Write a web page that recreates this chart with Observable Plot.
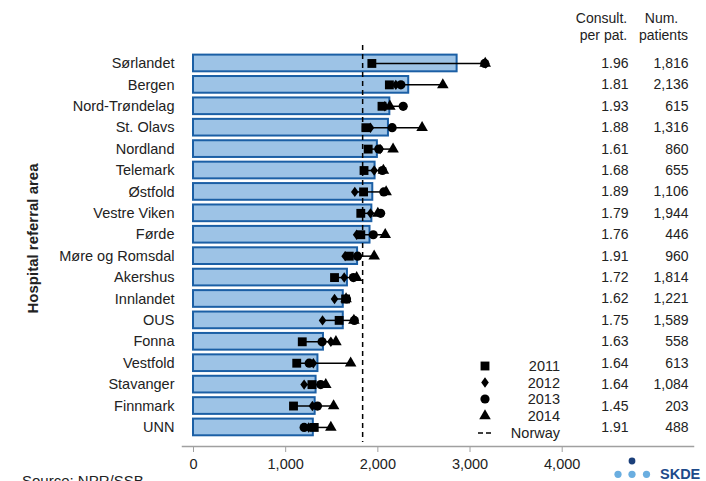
<!DOCTYPE html>
<html>
<head>
<meta charset="utf-8">
<script src="https://cdn.jsdelivr.net/npm/d3@7"></script>
<script src="https://cdn.jsdelivr.net/npm/@observablehq/plot@0.6"></script>
<style>
  body { margin: 0; background: #fff; }
  svg { font-family: Arial, "Liberation Sans", sans-serif; }
</style>
</head>
<body>
<div id="chart"></div>
<script>
const categories = ["Sørlandet","Bergen","Nord-Trøndelag","St. Olavs","Nordland","Telemark","Østfold","Vestre Viken","Førde","Møre og Romsdal","Akershus","Innlandet","OUS","Fonna","Vestfold","Stavanger","Finnmark","UNN"];
const average = [2860, 2335, 2130, 2115, 1995, 1970, 1945, 1935, 1915, 1780, 1670, 1625, 1625, 1410, 1350, 1330, 1320, 1300];
const v2011 = [1935, 2125, 2045, 1870, 1895, 1850, 1845, 1815, 1815, 1690, 1530, 1650, 1580, 1180, 1120, 1285, 1085, 1310];
const v2012 = [3170, 2195, 2075, 1920, 2025, 1960, 1750, 1920, 1770, 1645, 1635, 1530, 1400, 1490, 1300, 1200, 1290, 1250];
const v2013 = [3160, 2250, 2275, 2155, 2010, 2050, 2065, 2030, 1950, 1780, 1735, 1660, 1745, 1395, 1255, 1380, 1345, 1200];
const v2014 = [3165, 2705, 2130, 2480, 2165, 2060, 2090, 2000, 2080, 1960, 1770, 1655, 1740, 1545, 1705, 1435, 1520, 1490];
const consultPerPat = [1.96, 1.81, 1.93, 1.88, 1.61, 1.68, 1.89, 1.79, 1.76, 1.91, 1.72, 1.62, 1.75, 1.63, 1.64, 1.64, 1.45, 1.91];
const numPatients = [1816, 2136, 615, 1316, 860, 655, 1106, 1944, 446, 960, 1814, 1221, 1589, 558, 613, 1084, 203, 488];
const norway = 1835;
const xTicks = [0, 1000, 2000, 3000, 4000];
const legendLabels = ["2011", "2012", "2013", "2014", "Norway"];

const rows = categories.map((cat, i) => {
  const vals = [v2011[i], v2012[i], v2013[i], v2014[i]];
  return {cat, avg: average[i], y2011: v2011[i], y2012: v2012[i], y2013: v2013[i], y2014: v2014[i],
          min: d3.min(vals), max: d3.max(vals), consult: consultPerPat[i], patients: numPatients[i]};
});

const fmt = d3.format(",");
const textColor = "#222";
const symSizes = {square: 5, diamond: 4, circle: 4.6, triangle: 4.3};

// a diamond a little wider than d3's default
const wideDiamond = {
  draw(context, size) {
    const r = Math.sqrt(size / Math.PI);
    const h = r * 1.3, w = r * 0.95;
    context.moveTo(0, -h);
    context.lineTo(w, 0);
    context.lineTo(0, h);
    context.lineTo(-w, 0);
    context.closePath();
  }
};

function extras(index, scales, values, dims) {
  const g = d3.create("svg:g");
  const right = dims.width - dims.marginRight;
  const bottom = dims.height - dims.marginBottom;
  const syms = ["square", "diamond", "circle", "triangle"];
  const d3syms = {square: d3.symbolSquare, diamond: wideDiamond, circle: d3.symbolCircle, triangle: d3.symbolTriangle};
  const rowsY = [-80, -63.5, -47, -30, -13];
  legendLabels.forEach((lab, i) => {
    const cy = bottom + rowsY[i];
    const cx = right - 208;
    if (i < 4) {
      const r = symSizes[syms[i]];
      g.append("path")
        .attr("transform", `translate(${cx},${cy})`)
        .attr("d", d3.symbol(d3syms[syms[i]], r * r * Math.PI)())
        .attr("fill", "black");
    } else {
      g.append("line").attr("x1", cx - 7).attr("x2", cx + 7).attr("y1", cy).attr("y2", cy)
        .attr("stroke", "black").attr("stroke-width", 1.5).attr("stroke-dasharray", "5,3");
    }
    g.append("text").attr("x", right - 133).attr("y", cy).attr("dy", "0.35em")
      .attr("text-anchor", "end").attr("font-size", 14.5).attr("fill", textColor).text(lab);
  });
  g.append("text").attr("x", 22).attr("y", 486).attr("text-anchor", "start")
    .attr("font-size", 15).attr("fill", textColor).text("Source: NPR/SSB");
  g.append("circle").attr("cx", 632).attr("cy", 461).attr("r", 3.4).attr("fill", "#1b3f7a");
  [618, 632, 646.5].forEach(x => g.append("circle").attr("cx", x).attr("cy", 474.3).attr("r", 3.6).attr("fill", "#6aaee0"));
  g.append("text").attr("x", 660).attr("y", 479).attr("text-anchor", "start").attr("font-size", 14.5)
    .attr("font-weight", "bold").attr("fill", "#1d4a8a").text("SKDE");
  return g.node();
}

const chart = Plot.plot({
  width: 706,
  height: 481,
  marginLeft: 182,
  marginRight: 13,
  marginTop: 30,
  marginBottom: 35,
  style: {fontFamily: "Arial, 'Liberation Sans', sans-serif", color: textColor, background: "#fff"},
  x: {domain: [0, 4000], range: [193, 561.7]},
  y: {domain: categories, range: [49.9, 440.0], padding: 0.22, round: false},
  marks: [
    Plot.barX(rows, {x: "avg", y: "cat", fill: "#9dc3e6", stroke: "#1b5fa5", strokeWidth: 2}),
    Plot.ruleX([norway], {x: d => d, stroke: "black", strokeWidth: 1.5, strokeDasharray: "5,4", insetTop: 15, insetBottom: 4}),
    Plot.ruleY(rows, {y: "cat", x1: "min", x2: "max", stroke: "black", strokeWidth: 1.5}),
    Plot.dot(rows, {x: "y2011", y: "cat", symbol: "square", r: symSizes.square, fill: "black"}),
    Plot.dot(rows, {x: "y2012", y: "cat", symbol: wideDiamond, r: symSizes.diamond, fill: "black"}),
    Plot.dot(rows, {x: "y2013", y: "cat", symbol: "circle", r: symSizes.circle, fill: "black"}),
    Plot.dot(rows, {x: "y2014", y: "cat", symbol: "triangle", r: symSizes.triangle, fill: "black"}),
    Plot.frame({anchor: "bottom", stroke: "#a0a0a0", strokeWidth: 1.5}),
    Plot.axisX({ticks: xTicks, tickFormat: fmt, tickSize: 6, tickPadding: 6, fontSize: 14.5, stroke: "#a0a0a0", label: null}),
    Plot.axisY({tickSize: 0, tickPadding: 8, fontSize: 14.5, label: null}),
    Plot.text(["Hospital referral area"], {frameAnchor: "left", dx: -149, rotate: -90, textAnchor: "middle", fontWeight: "bold", fontSize: 15}),
    Plot.text(rows, {y: "cat", text: d => d.consult.toFixed(2), frameAnchor: "right", dx: -65, textAnchor: "end", fontSize: 14}),
    Plot.text(rows, {y: "cat", text: d => fmt(d.patients), frameAnchor: "right", dx: -5, textAnchor: "end", fontSize: 14}),
    Plot.text(["Consult."], {frameAnchor: "top-right", dx: -92, dy: -17, textAnchor: "middle", fontSize: 14}),
    Plot.text(["per pat."], {frameAnchor: "top-right", dx: -90, dy: 0, textAnchor: "middle", fontSize: 14}),
    Plot.text(["Num."], {frameAnchor: "top-right", dx: -32, dy: -17, textAnchor: "middle", fontSize: 14}),
    Plot.text(["patients"], {frameAnchor: "top-right", dx: -30, dy: 0, textAnchor: "middle", fontSize: 14}),
    extras
  ]
});
document.getElementById("chart").appendChild(chart);
</script>
</body>
</html>
